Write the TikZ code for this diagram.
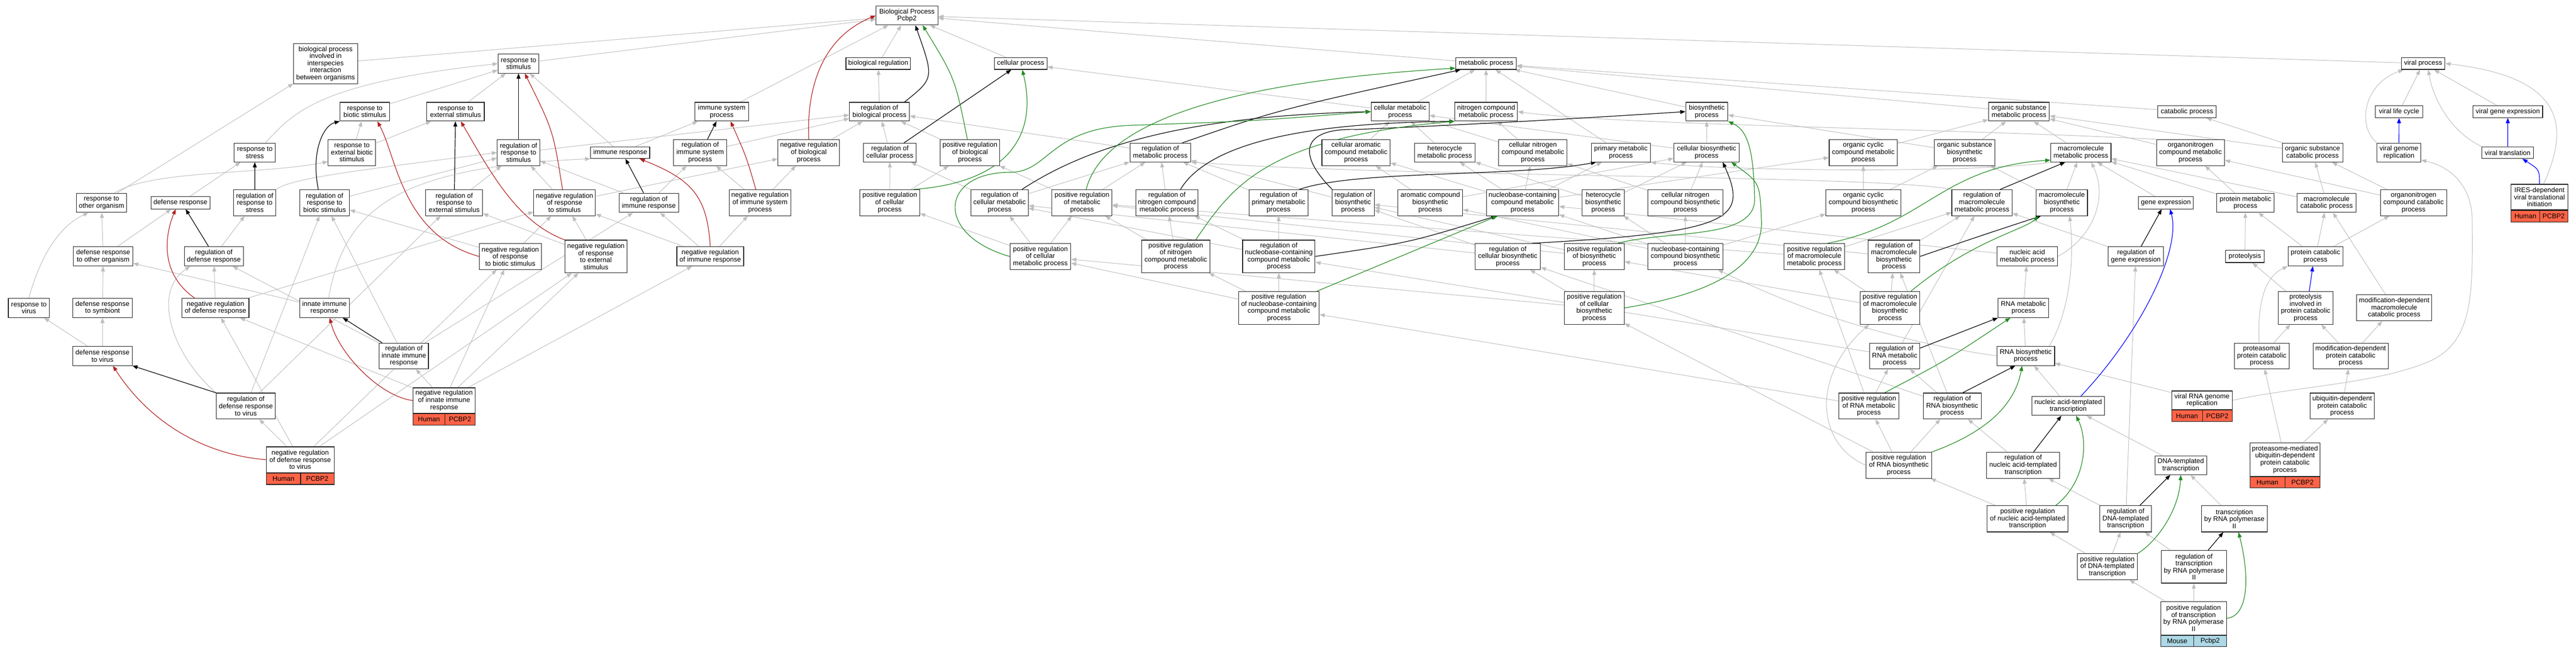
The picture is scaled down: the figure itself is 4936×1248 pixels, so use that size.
\documentclass[tikz,border=0pt]{standalone}
\usepackage{fontspec}
\setmainfont{Liberation Sans}
\usetikzlibrary{arrows.meta,calc}
\pgfdeclarelayer{bg}
\pgfsetlayers{bg,main}
\definecolor{ggray}{RGB}{190,190,190}
\definecolor{gred}{RGB}{178,34,34}
\definecolor{ggreen}{RGB}{34,139,34}
\definecolor{gblue}{RGB}{0,0,255}
\definecolor{tomatoc}{RGB}{255,99,71}
\definecolor{lblue}{RGB}{173,216,230}
\definecolor{bord}{RGB}{30,30,30}
\newcommand\nf{\fontsize{13}{13.6}\selectfont}
\newcommand\nd[6]{\node[gbox,minimum width=#4pt,minimum height=#5pt] (#1) at (#2,#3) {#6};}
\newcommand\Ln[3]{\draw[#1] (#2) -- (#3);}
\tikzset{
 gbox/.style={draw=bord,line width=1.1pt,fill=white,inner sep=1pt,align=center,font=\nf},
 gcell/.style={draw=bord,line width=1.1pt,inner sep=1pt,align=center,font=\nf},
 ga/.style={draw=ggray,line width=1pt,-{Triangle[length=10pt,width=7.5pt]}},
 bk/.style={draw=black,line width=1.2pt,-{Triangle[length=10pt,width=7.5pt]}},
 rd/.style={draw=gred,line width=1.2pt,-{Triangle[length=10pt,width=7.5pt]}},
 gr/.style={draw=ggreen,line width=1.2pt,-{Triangle[length=10pt,width=7.5pt]}},
 bl/.style={draw=gblue,line width=1.2pt,-{Triangle[length=10pt,width=7.5pt]}}
}
\begin{document}
\begin{tikzpicture}[x=1pt,y=-1pt]
\useasboundingbox (0,0) rectangle (4936,1248);
% ---------- row 0/1
\nd{BP}{1737.9}{29.8}{118.6}{36}{Biological Process\\Pcbp2}
\nd{BPI}{623.9}{121.9}{122.3}{76.3}{biological process\\involved in\\interspecies\\interaction\\between organisms}
\nd{RSTIM}{993.6}{121.9}{78.4}{36.3}{response to\\stimulus}
\nd{BR}{1682.9}{121.6}{123.9}{22.8}{biological regulation}
\nd{CP}{1955.8}{121.6}{101.1}{22.8}{cellular process}
\nd{MP}{2847.5}{121.6}{116.4}{22.8}{metabolic process}
\nd{VP}{4643}{121.6}{83.7}{22.8}{viral process}
% ---------- row 2
\nd{RBS}{699}{213.9}{94.8}{35.9}{response to\\biotic stimulus}
\nd{RESTIM}{872.9}{213.9}{110.2}{35.9}{response to\\external stimulus}
\nd{ISP}{1382.9}{213.9}{103.2}{35.9}{immune system\\process}
\nd{RBP}{1685.2}{213.9}{114.9}{35.9}{regulation of\\biological process}
\nd{CMP}{2682.8}{213.9}{111.1}{35.9}{cellular metabolic\\process}
\nd{NCMP}{2847.7}{213.9}{120.1}{35.9}{nitrogen compound\\metabolic process}
\nd{BSP}{3270.4}{213.9}{80.5}{35.9}{biosynthetic\\process}
\nd{OSMP}{3868.6}{213.9}{116.4}{35.9}{organic substance\\metabolic process}
\nd{CATP}{4190.6}{213.9}{111.9}{22.9}{catabolic process}
\nd{VLC}{4596.9}{213.9}{90.6}{22.9}{viral life cycle}
\nd{VGE}{4805.3}{213.9}{133.3}{22.9}{viral gene expression}
% ---------- row 3
\nd{RES}{674.3}{292.2}{91.1}{49.8}{response to\\external biotic\\stimulus}
\nd{RST}{488.3}{292.2}{78.8}{35.9}{response to\\stress}
\nd{RRSTIM}{993.6}{292.2}{81.5}{49.8}{regulation of\\response to\\stimulus}
\nd{IR}{1188.4}{292.4}{113.2}{22.5}{immune response}
\nd{RISP}{1341.6}{292.2}{102.1}{49.8}{regulation of\\immune system\\process}
\nd{NRBP}{1549.7}{292.2}{118}{49.8}{negative regulation\\of biological\\process}
\nd{RCP}{1705.1}{292.2}{101.6}{35.9}{regulation of\\cellular process}
\nd{PRBP}{1858.6}{292.2}{114.4}{49.8}{positive regulation\\of biological\\process}
\nd{RMP}{2223.3}{292.2}{116.5}{35.9}{regulation of\\metabolic process}
\nd{CACMP}{2598.4}{292.2}{130.8}{49.8}{cellular aromatic\\compound metabolic\\process}
\nd{HMP}{2768.3}{292.2}{115.9}{35.9}{heterocycle\\metabolic process}
\nd{CNCMP}{2937.2}{292.2}{130.8}{49.8}{cellular nitrogen\\compound metabolic\\process}
\nd{PMP}{3105.8}{292.2}{113.2}{35.9}{primary metabolic\\process}
\nd{CBP}{3270.1}{292.2}{125.5}{35.9}{cellular biosynthetic\\process}
\nd{OCCMP}{3570.3}{292.2}{130.7}{49.8}{organic cyclic\\compound metabolic\\process}
\nd{OSBP}{3764.6}{292.2}{116}{49.8}{organic substance\\biosynthetic\\process}
\nd{MMP}{3987.2}{292.2}{115.4}{35.9}{macromolecule\\metabolic process}
\nd{ONCMP}{4197.3}{292.2}{130.6}{49.8}{organonitrogen\\compound metabolic\\process}
\nd{OSCP}{4431.1}{292.2}{116.2}{35.9}{organic substance\\catabolic process}
\nd{VGR}{4596.7}{292.2}{83.7}{35.9}{viral genome\\replication}
\nd{VT}{4805.1}{292.4}{98.6}{22.5}{viral translation}
% ---------- row 4
\nd{RTO}{194.5}{388.5}{95.8}{36.7}{response to\\other organism}
\nd{DR}{345.7}{388.4}{113.3}{23.3}{defense response}
\nd{RRS}{488.1}{388.2}{81.5}{49.8}{regulation of\\response to\\stress}
\nd{RRBS}{622}{388.2}{95.3}{49.8}{regulation of\\response to\\biotic stimulus}
\nd{RRES}{870.3}{388.2}{109.1}{49.8}{regulation of\\response to\\external stimulus}
\nd{NRRS}{1081.8}{388.2}{118.1}{49.8}{negative regulation\\of response\\to stimulus}
\nd{RIR}{1243.2}{388.5}{113.8}{36.7}{regulation of\\immune response}
\nd{NRISP}{1456.3}{388.2}{118.5}{49.8}{negative regulation\\of immune system\\process}
\nd{PRCP}{1704.9}{388.2}{114.9}{49.8}{positive regulation\\of cellular\\process}
\nd{RCMP}{1915.3}{388.2}{110.1}{49.8}{regulation of\\cellular metabolic\\process}
\nd{PRMP}{2073.3}{388.2}{114.9}{49.8}{positive regulation\\of metabolic\\process}
\nd{RNCMP}{2236}{388.2}{119.6}{49.8}{regulation of\\nitrogen compound\\metabolic process}
\nd{RPMP}{2449.9}{388.2}{113.4}{49.8}{regulation of\\primary metabolic\\process}
\nd{RBSP}{2592.6}{388.2}{81}{49.8}{regulation of\\biosynthetic\\process}
\nd{ACBP}{2740.6}{388.2}{123.9}{49.8}{aromatic compound\\biosynthetic\\process}
\nd{NBCMP}{2917.4}{388.2}{138.7}{49.8}{nucleobase-containing\\compound metabolic\\process}
\nd{HBP}{3072}{388.2}{80.5}{49.8}{heterocycle\\biosynthetic\\process}
\nd{CNCBP}{3229.5}{388.2}{143.5}{49.8}{cellular nitrogen\\compound biosynthetic\\process}
\nd{OCCBP}{3570.6}{388.2}{144}{49.8}{organic cyclic\\compound biosynthetic\\process}
\nd{RMMP}{3797.7}{388.2}{115.4}{49.8}{regulation of\\macromolecule\\metabolic process}
\nd{MBP}{3950.7}{388.2}{98.5}{49.8}{macromolecule\\biosynthetic\\process}
\nd{GE}{4150.1}{388.4}{104.6}{23.3}{gene expression}
\nd{PMPR}{4302.6}{388.5}{109.8}{36.7}{protein metabolic\\process}
\nd{MCP}{4458.1}{388.5}{112.5}{36.7}{macromolecule\\catabolic process}
\nd{ONCCP}{4624.7}{388.2}{126.9}{49.8}{organonitrogen\\compound catabolic\\process}
\node[gbox,minimum width=108.2pt,minimum height=49pt] (IRES) at (4865.9,377.5) {IRES-dependent\\viral translational\\initiation};
\node[gcell,fill=tomatoc,minimum width=54.4pt,minimum height=22.5pt,anchor=north west] (IRESa) at (IRES.south west) {Human};
\node[gcell,fill=tomatoc,minimum width=53.8pt,minimum height=22.5pt,anchor=north east] (IRESb) at (IRES.south east) {PCBP2};
% ---------- row 5
\nd{DRO}{197.7}{491.1}{113.8}{36.7}{defense response\\to other organism}
\nd{RDR}{409.7}{491.1}{113.2}{36.7}{regulation of\\defense response}
\nd{NRRBS}{977.8}{491.3}{118.5}{49.5}{negative regulation\\of response\\to biotic stimulus}
\nd{NRRES}{1141.8}{491.2}{118.6}{62.4}{negative regulation\\of response\\to external\\stimulus}
\nd{NRIR}{1361}{491.1}{128}{36.7}{negative regulation\\of immune response}
\nd{PRCMP}{1993.6}{491.3}{116.4}{49.5}{positive regulation\\of cellular\\metabolic process}
\nd{PRNCMP}{2253}{491.2}{131.3}{62.4}{positive regulation\\of nitrogen\\compound metabolic\\process}
\nd{RNBCMP}{2450.4}{491.2}{138.8}{62.4}{regulation of\\nucleobase-containing\\compound metabolic\\process}
\nd{RCBP}{2889.1}{491.3}{125.5}{49.5}{regulation of\\cellular biosynthetic\\process}
\nd{PRBSP}{3054.8}{491.3}{114.9}{49.5}{positive regulation\\of biosynthetic\\process}
\nd{NBCBP}{3229.5}{491.3}{143.5}{49.5}{nucleobase-containing\\compound biosynthetic\\process}
\nd{PRMMP}{3476.7}{491.3}{115.9}{49.5}{positive regulation\\of macromolecule\\metabolic process}
\nd{RMBP}{3629.1}{491.2}{99}{62.4}{regulation of\\macromolecule\\biosynthetic\\process}
\nd{NAMP}{3884.5}{491.1}{116.4}{36.7}{nucleic acid\\metabolic process}
\nd{RGE}{4092.5}{491.1}{105.7}{36.7}{regulation of\\gene expression}
\nd{PROT}{4301.5}{491.3}{73.6}{23.3}{proteolysis}
\nd{PCP}{4436.7}{491.1}{105}{36.7}{protein catabolic\\process}
% ---------- row 6
\nd{RV}{55.4}{589.8}{78.9}{36.8}{response to\\virus}
\nd{DRS}{196.4}{589.8}{113.3}{36.8}{defense response\\to symbiont}
\nd{NRDR}{412.9}{589.8}{128.1}{36.8}{negative regulation\\of defense response}
\nd{IIR}{621.7}{589.8}{94.8}{36.8}{innate immune\\response}
\nd{PRNBCMP}{2450.5}{589.8}{154.7}{62.8}{positive regulation\\of nucleobase-containing\\compound metabolic\\process}
\nd{PRCBP}{3054.8}{589.8}{114.9}{62.8}{positive regulation\\of cellular\\biosynthetic\\process}
\nd{PRMBP}{3621.5}{589.8}{114.3}{62.8}{positive regulation\\of macromolecule\\biosynthetic\\process}
\nd{RNAMP}{3877.1}{589.8}{96.4}{36.8}{RNA metabolic\\process}
\nd{PIPCP}{4417.8}{589.8}{105.5}{62.8}{proteolysis\\involved in\\protein catabolic\\process}
\nd{MDMCP}{4587.6}{589.8}{144.5}{49.8}{modification-dependent\\macromolecule\\catabolic process}
% ---------- row 7
\nd{DRV}{196.4}{681.7}{113.3}{36.8}{defense response\\to virus}
\nd{RIIR}{773.9}{681.9}{94.2}{49.3}{regulation of\\innate immune\\response}
\nd{RRNAMP}{3630.5}{681.9}{96.3}{49.3}{regulation of\\RNA metabolic\\process}
\nd{RNABP}{3881.6}{681.7}{110.6}{36.8}{RNA biosynthetic\\process}
\nd{PPCP}{4333.8}{681.9}{105}{49.3}{proteasomal\\protein catabolic\\process}
\nd{MDPCP}{4504.2}{681.9}{143.9}{49.3}{modification-dependent\\protein catabolic\\process}
% ---------- row 8
\nd{RDRV}{471.1}{777.8}{113.2}{49.6}{regulation of\\defense response\\to virus}
\node[gbox,minimum width=119.1pt,minimum height=48.4pt] (NRIIR) at (851,767.2) {negative regulation\\of innate immune\\response};
\node[gcell,fill=tomatoc,minimum width=60.9pt,minimum height=21.6pt,anchor=north west] (NRIIRa) at (NRIIR.south west) {Human};
\node[gcell,fill=tomatoc,minimum width=58.2pt,minimum height=21.6pt,anchor=north east] (NRIIRb) at (NRIIR.south east) {PCBP2};
\nd{PRRNAMP}{3581}{777.8}{114.9}{49.6}{positive regulation\\of RNA metabolic\\process}
\nd{RRNABP}{3740.6}{777.8}{111.1}{49.6}{regulation of\\RNA biosynthetic\\process}
\nd{NATT}{3962.9}{777.8}{139.7}{36}{nucleic acid-templated\\transcription}
\node[gbox,minimum width=116.2pt,minimum height=35.6pt] (VRGR) at (4219.4,766.8) {viral RNA genome\\replication};
\node[gcell,fill=tomatoc,minimum width=58.7pt,minimum height=22pt,anchor=north west] (VRGRa) at (VRGR.south west) {Human};
\node[gcell,fill=tomatoc,minimum width=57.5pt,minimum height=22pt,anchor=north east] (VRGRb) at (VRGR.south east) {PCBP2};
\nd{UDPCP}{4487.9}{777.8}{123.2}{49.6}{ubiquitin-dependent\\protein catabolic\\process}
% ---------- row 9
\node[gbox,minimum width=129.7pt,minimum height=49.3pt] (NRDRV) at (575.2,880.6) {negative regulation\\of defense response\\to virus};
\node[gcell,fill=tomatoc,minimum width=65.6pt,minimum height=21.6pt,anchor=north west] (NRDRVa) at (NRDRV.south west) {Human};
\node[gcell,fill=tomatoc,minimum width=64.1pt,minimum height=21.6pt,anchor=north east] (NRDRVb) at (NRDRV.south east) {PCBP2};
\nd{PRRNABP}{3638.4}{891.2}{125.9}{49.7}{positive regulation\\of RNA biosynthetic\\process}
\nd{RNATT}{3876.6}{891.2}{139.7}{49.7}{regulation of\\nucleic acid-templated\\transcription}
\nd{DTT}{4178.7}{891.2}{98.7}{36.1}{DNA-templated\\transcription}
\node[gbox,minimum width=134.4pt,minimum height=63.3pt] (PMUD) at (4378.3,880.4) {proteasome-mediated\\ubiquitin-dependent\\protein catabolic\\process};
\node[gcell,fill=tomatoc,minimum width=67.2pt,minimum height=21.2pt,anchor=north west] (PMUDa) at (PMUD.south west) {Human};
\node[gcell,fill=tomatoc,minimum width=67.2pt,minimum height=21.2pt,anchor=north east] (PMUDb) at (PMUD.south east) {PCBP2};
% ---------- rows 10-12
\nd{PRNATT}{3885.1}{993.9}{154.5}{50.1}{positive regulation\\of nucleic acid-templated\\transcription}
\nd{RDTT}{4073.1}{993.9}{98.7}{50.1}{regulation of\\DNA-templated\\transcription}
\nd{TRP}{4281.3}{993.9}{125.8}{50.1}{transcription\\by RNA polymerase\\II}
\nd{PRDTT}{4038}{1085.4}{115.4}{49.6}{positive regulation\\of DNA-templated\\transcription}
\nd{RTRP}{4204}{1085.8}{124.7}{62.4}{regulation of\\transcription\\by RNA polymerase\\II}
\node[gbox,minimum width=126.3pt,minimum height=63.3pt] (PRTRP) at (4203.2,1184.4) {positive regulation\\of transcription\\by RNA polymerase\\II};
\node[gcell,fill=lblue,minimum width=63.4pt,minimum height=21.2pt,anchor=north west] (PRTRPa) at (PRTRP.south west) {Mouse};
\node[gcell,fill=lblue,minimum width=62.9pt,minimum height=21.2pt,anchor=north east] (PRTRPb) at (PRTRP.south east) {Pcbp2};

\begin{pgfonlayer}{bg}
\fill[white] (0,0) rectangle (4936,1248);
% ===== gray is_a edges: response / immune part
\Ln{ga}{BPI}{BP}
\Ln{ga}{RSTIM}{BP}
\Ln{ga}{BR}{BP}
\Ln{ga}{CP}{BP}
\Ln{ga}{MP}{BP}
\Ln{ga}{VP}{BP}
\Ln{ga}{ISP}{BP}
\Ln{ga}{RTO}{BPI}
\draw[ga] ($(RTO.north)+(25,0)$) .. controls (290,325) and (500,335) .. ($(RES.south west)+(0,-8)$);
\Ln{ga}{RBS}{RSTIM}
\Ln{ga}{RESTIM}{RSTIM}
\draw[ga] ($(RST.north)+(20,0)$) .. controls (560,220) and (600,160) .. (RSTIM.west);
\Ln{ga}{IR}{RSTIM}
\Ln{ga}{RES}{RBS}
\Ln{ga}{RES}{RESTIM}
\Ln{ga}{DR}{RST}
\draw[ga] (RRS.north east) .. controls (560,340) and (700,325) .. (RRSTIM.west);
\Ln{ga}{RRBS}{RRSTIM}
\Ln{ga}{RRES}{RRSTIM}
\Ln{ga}{RIR}{RRSTIM}
\Ln{ga}{NRRS}{RRSTIM}
\Ln{ga}{RRSTIM}{RBP}
\Ln{ga}{RISP}{RBP}
\Ln{ga}{NRBP}{RBP}
\Ln{ga}{PRBP}{RBP}
\Ln{ga}{RCP}{RBP}
\Ln{ga}{RMP}{RBP}
\Ln{ga}{RBP}{BR}
\Ln{ga}{IR}{ISP}
\Ln{ga}{RIR}{RISP}
\Ln{ga}{NRISP}{RISP}
\Ln{ga}{NRISP}{NRBP}
\Ln{ga}{NRRS}{NRBP}
\Ln{ga}{DRO}{RTO}
\Ln{ga}{DRO}{DR}
\Ln{ga}{IIR}{DRO}
\draw[ga] ($(IIR.north)+(8,0)$) .. controls (660,400) and (760,320) .. (IR.south west);
\Ln{ga}{RDR}{RRS}
\Ln{ga}{NRRBS}{RRBS}
\Ln{ga}{NRRBS}{NRRS}
\Ln{ga}{NRRES}{RRES}
\Ln{ga}{NRRES}{NRRS}
\Ln{ga}{NRIR}{RIR}
\Ln{ga}{NRIR}{NRRS}
\Ln{ga}{NRIR}{NRISP}
\draw[ga] (RV.north) .. controls (80,480) and (120,430) .. ($(RTO.south)+(-25,0)$);
\Ln{ga}{DRS}{DRO}
\Ln{ga}{DRV}{DRS}
\Ln{ga}{DRV}{RV}
\Ln{ga}{NRDR}{RDR}
\Ln{ga}{NRDR}{NRRS}
\Ln{ga}{RIIR}{RDR}
\Ln{ga}{RIIR}{RRBS}
\Ln{ga}{RIIR}{RIR}
\draw[ga] (RDRV.north west) .. controls (330,680) and (290,560) .. ($(RDR.south west)+(12,0)$);
\Ln{ga}{RDRV}{RRBS}
\Ln{ga}{RDRV}{RRES}
\Ln{ga}{NRDRV}{RDRV}
\Ln{ga}{NRDRV}{NRDR}
\Ln{ga}{NRDRV}{NRRBS}
\Ln{ga}{NRDRV}{NRRES}
\Ln{ga}{NRIIR}{RIIR}
\Ln{ga}{NRIIR}{NRDR}
\Ln{ga}{NRIIR}{NRRBS}
\Ln{ga}{NRIIR}{NRRES}
\Ln{ga}{NRIIR}{NRIR}
% ===== gray is_a edges: metabolic part
\Ln{ga}{CMP}{CP}
\Ln{ga}{CMP}{MP}
\Ln{ga}{NCMP}{MP}
\Ln{ga}{PMP}{MP}
\Ln{ga}{BSP}{MP}
\Ln{ga}{OSMP}{MP}
\Ln{ga}{CATP}{MP}
\Ln{ga}{PRCP}{RCP}
\Ln{ga}{PRCP}{PRBP}
\Ln{ga}{RCMP}{RCP}
\Ln{ga}{RCMP}{RMP}
\Ln{ga}{PRMP}{RMP}
\Ln{ga}{PRMP}{PRBP}
\Ln{ga}{RNCMP}{RMP}
\Ln{ga}{RPMP}{RMP}
\draw[ga] (RMMP.north west) .. controls (3600,335) and (2700,340) .. (RMP.south east);
\Ln{ga}{RBSP}{RMP}
\Ln{ga}{PRCMP}{RCMP}
\Ln{ga}{PRCMP}{PRMP}
\Ln{ga}{PRCMP}{PRCP}
\Ln{ga}{PRNCMP}{RNCMP}
\Ln{ga}{PRNCMP}{PRMP}
\Ln{ga}{RNBCMP}{RNCMP}
\Ln{ga}{RNBCMP}{RCMP}
\Ln{ga}{RNBCMP}{RPMP}
\Ln{ga}{PRNBCMP}{RNBCMP}
\Ln{ga}{PRNBCMP}{PRNCMP}
\Ln{ga}{PRNBCMP}{PRCMP}
\Ln{ga}{CACMP}{CMP}
\Ln{ga}{HMP}{CMP}
\Ln{ga}{CNCMP}{CMP}
\Ln{ga}{CNCMP}{NCMP}
\draw[ga] (ONCMP.north west) .. controls (3700,245) and (3100,240) .. (NCMP.east);
\Ln{ga}{ONCMP}{OSMP}
\Ln{ga}{CBP}{BSP}
\Ln{ga}{CBP}{CMP}
\Ln{ga}{OSBP}{BSP}
\Ln{ga}{OSBP}{OSMP}
\Ln{ga}{OCCMP}{OSMP}
\Ln{ga}{MMP}{OSMP}
\draw[ga] (MMP.south west) .. controls (3800,332) and (3300,328) .. (PMP.south east);
\Ln{ga}{NBCMP}{CACMP}
\Ln{ga}{NBCMP}{HMP}
\Ln{ga}{NBCMP}{CNCMP}
\Ln{ga}{NBCMP}{PMP}
\Ln{ga}{NBCMP}{OCCMP}
\Ln{ga}{ACBP}{CACMP}
\Ln{ga}{ACBP}{CBP}
\Ln{ga}{HBP}{HMP}
\Ln{ga}{HBP}{CBP}
\Ln{ga}{CNCBP}{CNCMP}
\Ln{ga}{CNCBP}{CBP}
\Ln{ga}{NBCBP}{NBCMP}
\Ln{ga}{NBCBP}{HBP}
\Ln{ga}{NBCBP}{CNCBP}
\Ln{ga}{NBCBP}{ACBP}
\Ln{ga}{NBCBP}{OCCBP}
\Ln{ga}{OCCBP}{OCCMP}
\Ln{ga}{OCCBP}{OSBP}
\Ln{ga}{RCBP}{RBSP}
\Ln{ga}{RCBP}{RCMP}
\Ln{ga}{PRBSP}{RBSP}
\Ln{ga}{PRBSP}{PRMP}
\Ln{ga}{PRCBP}{RCBP}
\Ln{ga}{PRCBP}{PRBSP}
\Ln{ga}{PRCBP}{PRCMP}
\Ln{ga}{PRMMP}{RMMP}
\Ln{ga}{PRMMP}{PRMP}
\Ln{ga}{RMBP}{RMMP}
\Ln{ga}{RMBP}{RBSP}
\Ln{ga}{PRMBP}{RMBP}
\Ln{ga}{PRMBP}{PRMMP}
\Ln{ga}{PRMBP}{PRBSP}
\Ln{ga}{MBP}{MMP}
\Ln{ga}{MBP}{OSBP}
\Ln{ga}{GE}{MMP}
\draw[ga] (NAMP.east) .. controls (4010,455) and (4040,380) .. ($(MMP.south)+(20,0)$);
\Ln{ga}{NAMP}{NBCMP}
\Ln{ga}{RNAMP}{NAMP}
\Ln{ga}{RGE}{RMMP}
\Ln{ga}{RRNAMP}{RNBCMP}
\Ln{ga}{RRNAMP}{RMMP}
\Ln{ga}{PRRNAMP}{RRNAMP}
\Ln{ga}{PRRNAMP}{PRNBCMP}
\Ln{ga}{PRRNAMP}{PRMMP}
\Ln{ga}{RRNABP}{RRNAMP}
\Ln{ga}{RRNABP}{RMBP}
\Ln{ga}{RRNABP}{RCBP}
\Ln{ga}{PRRNABP}{RRNABP}
\Ln{ga}{PRRNABP}{PRRNAMP}
\draw[ga] (PRRNABP.west) .. controls (3480,850) and (3470,720) .. ($(PRMBP.south)+(-40,0)$);
\Ln{ga}{PRRNABP}{PRCBP}
\Ln{ga}{RNABP}{RNAMP}
\draw[ga] (RNABP.west) .. controls (3600,650) and (3420,580) .. ($(NBCBP.south east)+(-10,0)$);
\draw[ga] ($(RNABP.north)+(45,0)$) .. controls (3965,600) and (3975,500) .. ($(MBP.south)+(15,0)$);
\Ln{ga}{NATT}{RNABP}
\Ln{ga}{DTT}{NATT}
\Ln{ga}{TRP}{DTT}
\Ln{ga}{RNATT}{RRNABP}
\Ln{ga}{PRNATT}{RNATT}
\Ln{ga}{PRNATT}{PRRNABP}
\Ln{ga}{RDTT}{RNATT}
\Ln{ga}{RDTT}{RGE}
\Ln{ga}{PRDTT}{PRNATT}
\Ln{ga}{PRDTT}{RDTT}
\Ln{ga}{RTRP}{RDTT}
\Ln{ga}{PRTRP}{RTRP}
\Ln{ga}{PRTRP}{PRDTT}
\Ln{ga}{VRGR}{RNABP}
\draw[ga] (VRGR.east) .. controls (4400,740) and (4560,735) .. (4660,690) .. controls (4740,650) and (4738,560) .. (4737,420) .. controls (4736,360) and (4700,320) .. ($(VGR.south east)+(0,-4)$);
\Ln{ga}{OSCP}{CATP}
\Ln{ga}{OSCP}{OSMP}
\Ln{ga}{PMPR}{ONCMP}
\Ln{ga}{PMPR}{MMP}
\Ln{ga}{MCP}{MMP}
\Ln{ga}{MCP}{OSCP}
\Ln{ga}{ONCCP}{ONCMP}
\Ln{ga}{ONCCP}{OSCP}
\Ln{ga}{PROT}{PMPR}
\Ln{ga}{PCP}{PMPR}
\Ln{ga}{PCP}{MCP}
\Ln{ga}{PCP}{ONCCP}
\Ln{ga}{PIPCP}{PROT}
\Ln{ga}{MDMCP}{MCP}
\Ln{ga}{PPCP}{PIPCP}
\draw[ga] ($(PPCP.north)+(-5,0)$) .. controls (4325,580) and (4340,530) .. (PCP.south west);
\Ln{ga}{MDPCP}{PIPCP}
\Ln{ga}{MDPCP}{MDMCP}
\Ln{ga}{UDPCP}{MDPCP}
\Ln{ga}{PMUD}{PPCP}
\Ln{ga}{PMUD}{UDPCP}
\Ln{ga}{VLC}{VP}
\Ln{ga}{VGE}{VP}
\draw[ga] (VGR.north west) .. controls (4515,240) and (4530,160) .. ($(VP.south west)+(5,0)$);
\draw[ga] (VT.north west) .. controls (4690,250) and (4660,180) .. ($(VP.south)+(10,0)$);
\draw[ga] ($(IRES.north)+(8,0)$) .. controls (4915,260) and (4935,150) .. (VP.east);
% ===== black: regulates
\draw[bk] ($(RBP.north)+(48,0)$) .. controls (1790,150) .. ($(BP.south)+(16,0)$);
\draw[bk] ($(RCP.north)+(27,0)$) -- ($(CP.south)+(-18,0)$);
\draw[bk] ($(RMP.north)+(42,0)$) .. controls (2450,210) .. ($(MP.south west)+(10,0)$);
\draw[bk] ($(RCMP.north)+(43,0)$) .. controls (2100,270) and (2300,222) .. (CMP.west);
\draw[bk] ($(RNCMP.north)+(26,0)$) .. controls (2330,250) and (2600,235) .. (NCMP.south west);
\draw[bk] ($(RPMP.north)+(40,0)$) .. controls (2600,325) and (2900,340) .. ($(PMP.south west)+(10,0)$);
\draw[bk] ($(RBSP.north)+(-40,0)$) .. controls (2480,290) and (2500,245) .. (2600,248) .. controls (2900,235) and (3100,222) .. (BSP.west);
\draw[bk] ($(RCBP.north)+(47,0)$) .. controls (3320,445) and (3350,420) .. ($(CBP.south)+(31,0)$);
\draw[bk] (RNBCMP.east) .. controls (2700,465) .. ($(NBCMP.south west)+(20,0)$);
\draw[bk] ($(RMMP.north)+(35,0)$) -- ($(MMP.south)+(-30,0)$);
\draw[bk] (RMBP.east) .. controls (3800,450) .. ($(MBP.south west)+(10,0)$);
\draw[bk] ($(RGE.north)+(10,0)$) -- ($(GE.south)+(-8,0)$);
\draw[bk] ($(RRNAMP.east)+(0,-15)$) -- (RNAMP.south west);
\draw[bk] ($(RRNABP.north)+(20,0)$) -- ($(RNABP.south)+(-20,0)$);
\draw[bk] ($(RNATT.north)+(20,0)$) -- ($(NATT.south)+(-13,0)$);
\draw[bk] ($(RDTT.north)+(27,0)$) -- ($(DTT.south)+(-20,0)$);
\draw[bk] ($(RTRP.north)+(27,0)$) -- ($(TRP.south)+(-21,0)$);
\draw[bk] (RRSTIM) -- (RSTIM);
\draw[bk] (RRES) -- (RESTIM);
\draw[bk] ($(RRBS.north)+(-12,0)$) .. controls (595,290) and (620,240) .. (RBS.south west);
\draw[bk] (RRS) -- (RST);
\draw[bk] ($(RDR.north)+(-10,0)$) -- ($(DR.south)+(10,0)$);
\draw[bk] (RDRV.north west) -- (DRV.south east);
\draw[bk] ($(RIIR.north west)+(6,0)$) -- ($(IIR.south)+(35,0)$);
\draw[bk] ($(RIR.north)+(-10,0)$) -- ($(IR.south)+(10,0)$);
\draw[bk] ($(RISP.north)+(14,0)$) -- ($(ISP.south)+(-10,0)$);
% ===== red: negatively regulates
\draw[rd] (NRBP.north) .. controls (1545,160) and (1580,70) .. (BP.west);
\draw[rd] ($(NRRS.north)+(-4,0)$) .. controls (1060,250) .. ($(RSTIM.south)+(12,0)$);
\draw[rd] (NRRES.north west) .. controls (990,425) and (940,330) .. ($(RESTIM.south)+(10,0)$);
\draw[rd] (NRRBS.west) .. controls (770,450) and (760,300) .. ($(RBS.south)+(24,0)$);
\draw[rd] ($(NRDR.north)+(-40,0)$) .. controls (300,520) and (320,440) .. ($(DR.south)+(-9,0)$);
\draw[rd] (NRDRV.west) .. controls (380,870) and (280,800) .. ($(DRV.south)+(20,0)$);
\draw[rd] (NRIIR.west) .. controls (730,760) and (650,680) .. ($(IIR.south)+(10,0)$);
\draw[rd] (NRIR.north) .. controls (1355,380) and (1330,345) .. ($(IR.south east)+(-20,0)$);
\draw[rd] ($(NRISP.north)+(-8,0)$) .. controls (1430,300) .. ($(ISP.south)+(17,0)$);
% ===== green: positively regulates
\draw[gr] ($(PRBP.north)+(-5,0)$) .. controls (1830,150) .. ($(BP.south)+(30,0)$);
\draw[gr] ($(PRCP.north)+(46,0)$) .. controls (1930,350) and (1990,260) .. ($(CP.south)+(3,0)$);
\draw[gr] ($(PRMP.north)+(8,0)$) .. controls (2110,250) and (2300,160) .. ($(MP.south west)+(0,-3)$);
\draw[gr] (PRCMP.west) .. controls (1790,450) and (1800,330) .. (1936,330) .. controls (2010,330) and (2010,245) .. (2169,240) .. controls (2400,232) .. (CMP.west);
\draw[gr] ($(PRNCMP.north)+(38,0)$) .. controls (2360,360) and (2420,265) .. (NCMP.south west);
\draw[gr] ($(PRNBCMP.north east)+(-5,0)$) -- ($(NBCMP.south west)+(22,0)$);
\draw[gr] ($(PRBSP.north)+(45,0)$) .. controls (3200,440) and (3365,460) .. (3362,380) .. controls (3360,290) and (3350,250) .. (BSP.south east);
\draw[gr] (PRCBP.east) .. controls (3300,560) and (3380,500) .. (3375,420) .. controls (3372,350) .. ($(CBP.south east)+(-16,0)$);
\draw[gr] ($(PRMMP.north)+(25,0)$) .. controls (3690,430) and (3720,320) .. ($(MMP.south west)+(0,-4)$);
\draw[gr] ($(PRMBP.north)+(40,0)$) .. controls (3780,460) and (3880,440) .. ($(MBP.south west)+(5,0)$);
\draw[gr] ($(PRRNAMP.north)+(30,0)$) .. controls (3730,690) .. ($(RNAMP.south)+(-25,0)$);
\draw[gr] (PRRNABP.north east) .. controls (3800,830) and (3860,780) .. ($(RNABP.south)+(-7,0)$);
\draw[gr] ($(PRNATT.north)+(54,0)$) .. controls (4000,920) and (4000,840) .. ($(NATT.south)+(15,0)$);
\draw[gr] (PRDTT.north east) .. controls (4130,1040) and (4175,980) .. (DTT.south);
\draw[gr] (PRTRP.east) .. controls (4310,1180) and (4310,1100) .. ($(TRP.south)+(8,0)$);
% ===== blue: part of
\draw[bl] (VGR) -- (VLC);
\draw[bl] (VT) -- (VGE);
\draw[bl] (IRES.north) .. controls (4866,325) .. ($(VT.south)+(28,0)$);
\draw[bl] ($(PIPCP.north)+(7,0)$) -- ($(PCP.south)+(-5,0)$);
\draw[bl] ($(NATT.north)+(24,0)$) .. controls (4100,640) and (4180,480) .. ($(GE.south)+(8,0)$);
\end{pgfonlayer}
\end{tikzpicture}
\end{document}
